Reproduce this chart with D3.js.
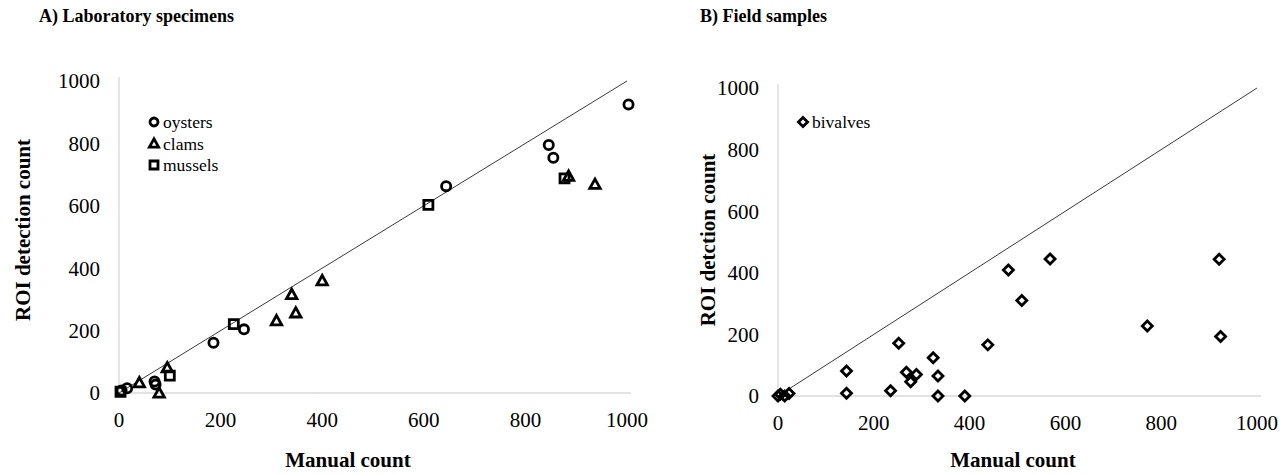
<!DOCTYPE html>
<html>
<head>
<meta charset="utf-8">
<script src="https://cdn.jsdelivr.net/npm/d3@7"></script>
<style>
  body { margin: 0; background: #fff; }
  svg { display: block; }
  text { font-family: "Liberation Serif", "Times New Roman", serif; fill: #000; }
</style>
</head>
<body>
<svg id="chart" width="1286" height="474"></svg>
<script>
// Panel A: laboratory specimens (manual count, ROI detection count)
var oysters = [[5, 8], [16, 15], [70, 37], [72, 27], [186, 161], [246, 204], [644, 663], [846, 795], [855, 754], [1003, 925]];
var clams = [[40, 33], [79, 0], [95, 81], [310, 232], [340, 316], [348, 257], [400, 360], [885, 695], [937, 669]];
var mussels = [[3, 4], [100, 56], [226, 221], [609, 603], [877, 688]];
// Panel B: field samples
var bivalves = [[0, 0], [5, 6], [14, 0], [23, 8], [143, 81], [143, 9], [235, 17], [252, 171], [268, 77],
  [277, 46], [289, 70], [324, 124], [334, 65], [334, 0], [390, 0], [438, 166], [481, 409], [509, 310],
  [568, 445], [771, 227], [921, 444], [924, 193]];
var tickValues = [0, 200, 400, 600, 800, 1000];
var oneToOne = [[0, 0], [1000, 1000]];

var svg = d3.select("#chart");

function circlePath(r) {
  return "M" + (-r) + ",0A" + r + "," + r + " 0 1,0 " + r + ",0A" + r + "," + r + " 0 1,0 " + (-r) + ",0Z";
}
function trianglePath(s) {
  return "M0," + (-s) + "L" + s + "," + (s * 0.8) + "L" + (-s) + "," + (s * 0.8) + "Z";
}
function squarePath(s) {
  return "M" + (-s) + "," + (-s) + "H" + s + "V" + s + "H" + (-s) + "Z";
}
function diamondPath(s) {
  return "M0," + (-s) + "L" + s + ",0L0," + s + "L" + (-s) + ",0Z";
}

function drawPanel(opt) {
  var x = d3.scaleLinear().domain([0, 1000]).range([opt.x0, opt.x1]);
  var y = d3.scaleLinear().domain([0, 1000]).range([opt.y0, opt.y1]);
  var g = svg.append("g");

  // axis lines (light grey)
  g.append("line").attr("x1", x(0)).attr("x2", x(1000) + 4)
    .attr("y1", y(0)).attr("y2", y(0))
    .attr("stroke", "#d9d9d9").attr("stroke-width", 1.3);
  g.append("line").attr("x1", x(0)).attr("x2", x(0))
    .attr("y1", y(0)).attr("y2", y(1000) - 4)
    .attr("stroke", "#d9d9d9").attr("stroke-width", 1.3);

  // tick labels
  g.selectAll(".xt").data(tickValues).enter().append("text")
    .attr("x", function(d) { return x(d); })
    .attr("y", y(0) + 34)
    .attr("text-anchor", "middle")
    .style("font-size", "21px")
    .text(function(d) { return d; });
  g.selectAll(".yt").data(tickValues).enter().append("text")
    .attr("x", x(0) - 19)
    .attr("y", function(d) { return y(d); })
    .attr("dy", "0.35em")
    .attr("text-anchor", "end")
    .style("font-size", "21px")
    .text(function(d) { return d; });

  // 1:1 line
  g.append("path").datum(oneToOne)
    .attr("d", d3.line().x(function(d) { return x(d[0]); }).y(function(d) { return y(d[1]); }))
    .attr("stroke", "#3a3a3a").attr("stroke-width", 1).attr("fill", "none");

  // points
  opt.series.forEach(function(s) {
    g.selectAll(null).data(s.data).enter().append("path")
      .attr("transform", function(d) { return "translate(" + x(d[0]) + "," + y(d[1]) + ")"; })
      .attr("d", s.shape)
      .attr("fill", "none").attr("stroke", "#000").attr("stroke-width", 2.8);
  });

  // legend
  opt.series.forEach(function(s, i) {
    g.append("path")
      .attr("transform", "translate(" + opt.legX + "," + (opt.legY + i * 21.5) + ")")
      .attr("d", s.legShape)
      .attr("fill", "none").attr("stroke", "#000").attr("stroke-width", 2.8);
    g.append("text")
      .attr("x", opt.legX + 9).attr("y", opt.legY + i * 21.5)
      .attr("dy", "0.35em")
      .style("font-size", "17.5px")
      .text(s.name);
  });

  // titles
  g.append("text").attr("x", opt.titleX).attr("y", 22)
    .style("font-size", "18px").style("font-weight", "bold")
    .text(opt.title);
  g.append("text").attr("x", opt.xTitleX).attr("y", 467)
    .attr("text-anchor", "middle")
    .style("font-size", "21px").style("font-weight", "bold")
    .text("Manual count");
  g.append("text")
    .attr("transform", "translate(" + opt.yTitleX + "," + opt.yTitleY + ") rotate(-90)")
    .attr("dy", "0.35em")
    .attr("text-anchor", "middle")
    .style("font-size", "21px").style("font-weight", "bold")
    .text(opt.yTitle);
}

drawPanel({
  x0: 119, x1: 627, y0: 393, y1: 81,
  title: "A) Laboratory specimens", titleX: 39,
  xTitleX: 348,
  yTitle: "ROI detection count", yTitleX: 23, yTitleY: 230,
  legX: 154, legY: 122,
  series: [
    { name: "oysters", data: oysters, shape: circlePath(4.6), legShape: circlePath(4) },
    { name: "clams", data: clams, shape: trianglePath(5.2), legShape: trianglePath(4.6) },
    { name: "mussels", data: mussels, shape: squarePath(4.5), legShape: squarePath(4) }
  ]
});

drawPanel({
  x0: 778, x1: 1257, y0: 396, y1: 88,
  title: "B) Field samples", titleX: 700,
  xTitleX: 1013,
  yTitle: "ROI detction count", yTitleX: 708, yTitleY: 240,
  legX: 803, legY: 122,
  series: [
    { name: "bivalves", data: bivalves, shape: diamondPath(5), legShape: diamondPath(4.6) }
  ]
});
</script>
</body>
</html>
